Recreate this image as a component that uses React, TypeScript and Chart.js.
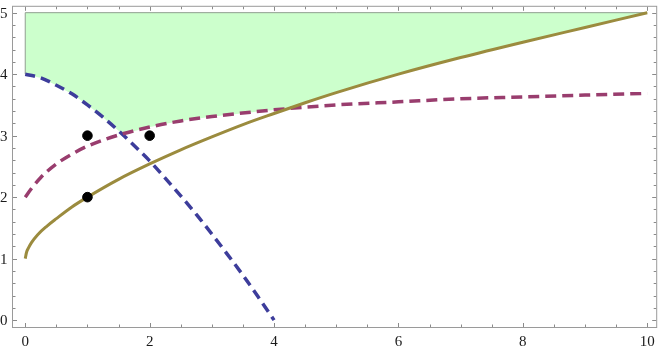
import React, { useEffect, useRef } from "react";
import { Chart, registerables } from "chart.js";
Chart.register(...registerables);

// ---- data ----
const blueX = [0, 0.25, 0.5, 0.75, 1, 1.25, 1.5, 1.75, 2, 2.25, 2.5, 2.75, 3, 3.25, 3.5, 3.75, 4];
const blueY = [4, 3.94, 3.82, 3.68, 3.5, 3.3, 3.08, 2.84, 2.59, 2.31, 2.02, 1.72, 1.4, 1.07, 0.73, 0.37, 0];

const purpleX = [0, 0.1, 0.25, 0.5, 0.75, 1, 1.5, 2, 2.5, 3, 4, 5, 6, 7, 8, 9, 10];
const purpleY = [2, 2.14, 2.32, 2.54, 2.7, 2.83, 3.01, 3.14, 3.24, 3.31, 3.42, 3.5, 3.55, 3.6, 3.63, 3.66, 3.69];

const oliveX = [0, 0.02, 0.05, 0.1, 0.2, 0.35, 0.5, 0.75, 1, 1.5, 2, 2.5, 3, 3.5, 4, 4.5, 5, 6, 7, 8, 9, 10];
const oliveY = [1, 1.1, 1.17, 1.26, 1.39, 1.53, 1.65, 1.84, 2.0, 2.29, 2.54, 2.77, 2.98, 3.18, 3.36, 3.535, 3.7, 4.0, 4.27, 4.52, 4.76, 5.0];

const dotX = [1, 2, 1];
const dotY = [3, 3, 2];

const fillTop = 5;
const xMajor = [0, 2, 4, 6, 8, 10];
const yMajor = [0, 1, 2, 3, 4, 5];
const xMinorStep = 0.5;
const yMinorStep = 0.2;

// ---- helpers ----
const toPts = (xs: number[], ys: number[]) => xs.map((x, i) => ({ x, y: ys[i] }));

function interp(xs: number[], ys: number[], x: number): number {
  if (x < xs[0] || x > xs[xs.length - 1]) return -Infinity;
  for (let i = 1; i < xs.length; i++) {
    if (x <= xs[i]) {
      const t = (x - xs[i - 1]) / (xs[i] - xs[i - 1]);
      return ys[i - 1] + t * (ys[i] - ys[i - 1]);
    }
  }
  return ys[ys.length - 1];
}

function buildBoundary() {
  const set = new Set<number>();
  [blueX, purpleX, oliveX].forEach((a) => a.forEach((v) => set.add(v)));
  for (let v = 0; v <= 10.0001; v += 0.05) set.add(Math.round(v * 1000) / 1000);
  const xs = Array.from(set).sort((a, b) => a - b);
  return xs.map((x) => ({
    x,
    y: Math.min(
      fillTop,
      Math.max(interp(blueX, blueY, x), interp(purpleX, purpleY, x), interp(oliveX, oliveY, x))
    ),
  }));
}

const LABEL_FONT = '15px "Liberation Serif", "Times New Roman", Times, serif';

const framePlugin = {
  id: "mmaFrame",
  afterDatasetsDraw(chart: any) {
    const { ctx, chartArea: a, scales } = chart;
    const sx = scales.x;
    const sy = scales.y;
    ctx.save();
    ctx.strokeStyle = "#9a9a9a";
    ctx.lineWidth = 1;
    ctx.strokeRect(a.left + 0.5, a.top + 0.5, a.right - a.left - 1, a.bottom - a.top - 1);
    ctx.strokeStyle = "#8a8a8a";
    ctx.beginPath();
    const xTick = (v: number, len: number) => {
      const px = Math.round(sx.getPixelForValue(v)) + 0.5;
      ctx.moveTo(px, a.bottom - 1);
      ctx.lineTo(px, a.bottom - 1 - len);
      ctx.moveTo(px, a.top + 1);
      ctx.lineTo(px, a.top + 1 + len);
    };
    const yTick = (v: number, len: number) => {
      const py = Math.round(sy.getPixelForValue(v)) + 0.5;
      ctx.moveTo(a.left + 1, py);
      ctx.lineTo(a.left + 1 + len, py);
      ctx.moveTo(a.right - 1, py);
      ctx.lineTo(a.right - 1 - len, py);
    };
    for (let v = 0; v <= 10.0001; v += xMinorStep) {
      const isMajor = xMajor.some((m) => Math.abs(m - v) < 1e-6);
      xTick(v, isMajor ? 4 : 2.5);
    }
    for (let v = 0; v <= 5.0001; v += yMinorStep) {
      const isMajor = yMajor.some((m) => Math.abs(m - v) < 1e-6);
      yTick(v, isMajor ? 4 : 2.5);
    }
    ctx.stroke();
    ctx.fillStyle = "#1a1a1a";
    ctx.font = LABEL_FONT;
    ctx.textAlign = "center";
    ctx.textBaseline = "middle";
    xMajor.forEach((v) => ctx.fillText(String(v), sx.getPixelForValue(v), a.bottom + 14));
    ctx.textAlign = "right";
    yMajor.forEach((v) => ctx.fillText(String(v), a.left - 4.5, sy.getPixelForValue(v) + 1));
    ctx.restore();
  },
};

export default function App() {
  const ref = useRef<HTMLCanvasElement | null>(null);
  useEffect(() => {
    document.body.style.margin = "0";
    if (!ref.current) return;
    const boundary = buildBoundary();
    const edge = [
      { x: blueX[0], y: blueY[0] },
      { x: blueX[0], y: fillTop },
      { x: oliveX[oliveX.length - 1], y: fillTop },
    ];
    const chart = new Chart(ref.current, {
      type: "line",
      data: {
        datasets: [
          {
            label: "points",
            type: "scatter",
            data: toPts(dotX, dotY),
            backgroundColor: "#000",
            borderColor: "#000",
            pointRadius: 4.8,
            order: 0,
          } as any,
          {
            label: "olive",
            data: toPts(oliveX, oliveY),
            borderColor: "#9b8b3e",
            borderWidth: 3,
            pointRadius: 0,
            cubicInterpolationMode: "monotone",
            fill: false,
            order: 1,
          },
          {
            label: "purple",
            data: toPts(purpleX, purpleY),
            borderColor: "#993d6e",
            borderWidth: 3.5,
            borderDash: [11, 6],
            pointRadius: 0,
            cubicInterpolationMode: "monotone",
            fill: false,
            order: 2,
          },
          {
            label: "blue",
            data: toPts(blueX, blueY),
            borderColor: "#3d3d9b",
            borderWidth: 3.5,
            borderDash: [10, 6],
            pointRadius: 0,
            cubicInterpolationMode: "monotone",
            fill: false,
            order: 3,
          },
          {
            label: "edge",
            data: edge,
            borderColor: "#8f9f8f",
            borderWidth: 1,
            pointRadius: 0,
            tension: 0,
            fill: false,
            order: 4,
          },
          {
            label: "fill",
            data: boundary,
            borderWidth: 0,
            borderColor: "rgba(0,0,0,0)",
            backgroundColor: "#ccffcc",
            pointRadius: 0,
            tension: 0,
            fill: { value: fillTop },
            order: 5,
          },
        ],
      },
      options: {
        responsive: false,
        animation: false,
        layout: { padding: { left: 12, right: 3, top: 1, bottom: 21 } },
        plugins: { legend: { display: false }, tooltip: { enabled: false } },
        scales: {
          x: { type: "linear", min: -0.213, max: 10.16, display: false },
          y: { type: "linear", min: -0.128, max: 5.112, display: false },
        },
      },
      plugins: [framePlugin],
    });
    return () => chart.destroy();
  }, []);
  return (
    <div style={{ position: "absolute", left: 0, top: 0, width: 663, height: 349 }}>
      <canvas ref={ref} width={663} height={349} />
    </div>
  );
}
